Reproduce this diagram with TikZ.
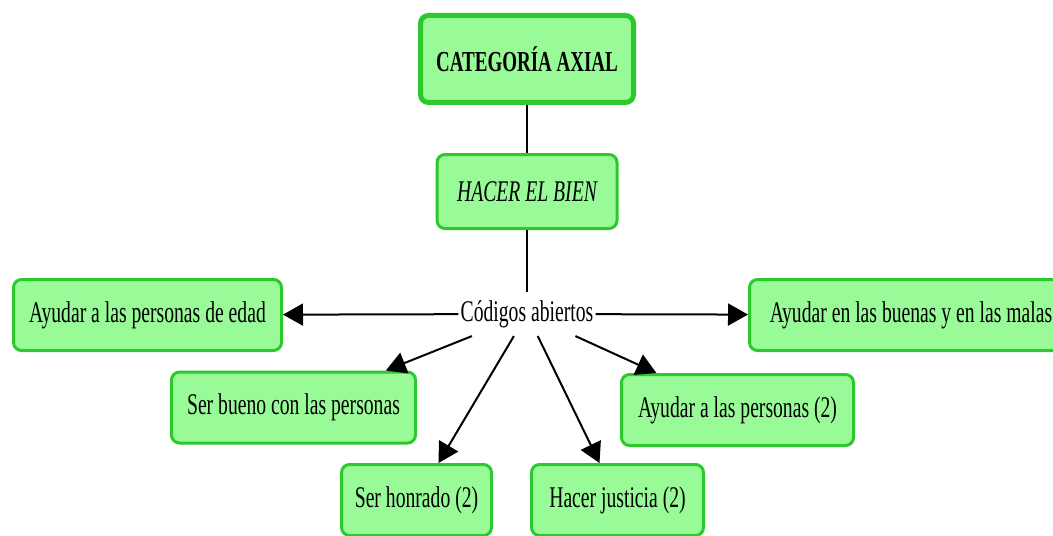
\documentclass[tikz,border=0pt]{standalone}
\usepackage{fontspec}
\setmainfont[FakeStretch=0.655]{Liberation Serif}
\usepackage{xcolor}
\usepackage{tikz}
\usetikzlibrary{arrows.meta, positioning}
\definecolor{boxgreen}{RGB}{152,251,152}
\definecolor{edgegreen}{RGB}{45,200,45}

\begin{document}
\begin{tikzpicture}[x=0.5pt, y=-0.5pt, font=\fontsize{15}{18}\selectfont,
    b/.style={draw=edgegreen, line width=1.5pt, rounded corners=4pt, fill=boxgreen, minimum height=35.5pt, inner sep=2pt, align=center},
    arr/.style={-{Triangle[length=10pt, width=11pt]}, line width=1pt, black}]
    \useasboundingbox (0,0) rectangle (1053,535);
    \node[b, line width=2.5pt, minimum width=106.5pt, minimum height=43.5pt] (axial) at (527,59) {\fontsize{14.5}{17}\selectfont\bfseries CATEGORÍA AXIAL};
    \node[b, minimum width=90pt, minimum height=37pt, below=24pt of axial] (bien) {\itshape HACER EL BIEN};
    \node[inner xsep=1pt, inner ysep=4pt] (codigos) at (527,314) {Códigos abiertos};
    \node[b, minimum width=134pt] (edad) at (147.5,315) {Ayudar a las personas de edad};
    \node[b, minimum width=161.5pt] (malas) at (911,315) {Ayudar en las buenas y en las malas};
    \node[b, minimum width=122pt] (bueno) at (293.5,407.5) {Ser bueno con las personas};
    \node[b, minimum width=116pt] (ayudar) at (737.5,410) {Ayudar a las personas (2)};
    \node[b, minimum width=75pt] (honrado) at (416.5,500) {Ser honrado (2)};
    \node[b, minimum width=86pt] (justicia) at (617.5,500) {Hacer justicia (2)};
    \draw[line width=0.75pt] (axial) -- (bien);
    \draw[line width=0.75pt] (bien) -- (codigos);
    \draw[arr] (codigos) -- (edad);
    \draw[arr] (codigos) -- (malas);
    \foreach \n in {bueno, honrado, justicia, ayudar}
      \draw[arr] (codigos) -- (\n);
  \end{tikzpicture}
\end{document}
